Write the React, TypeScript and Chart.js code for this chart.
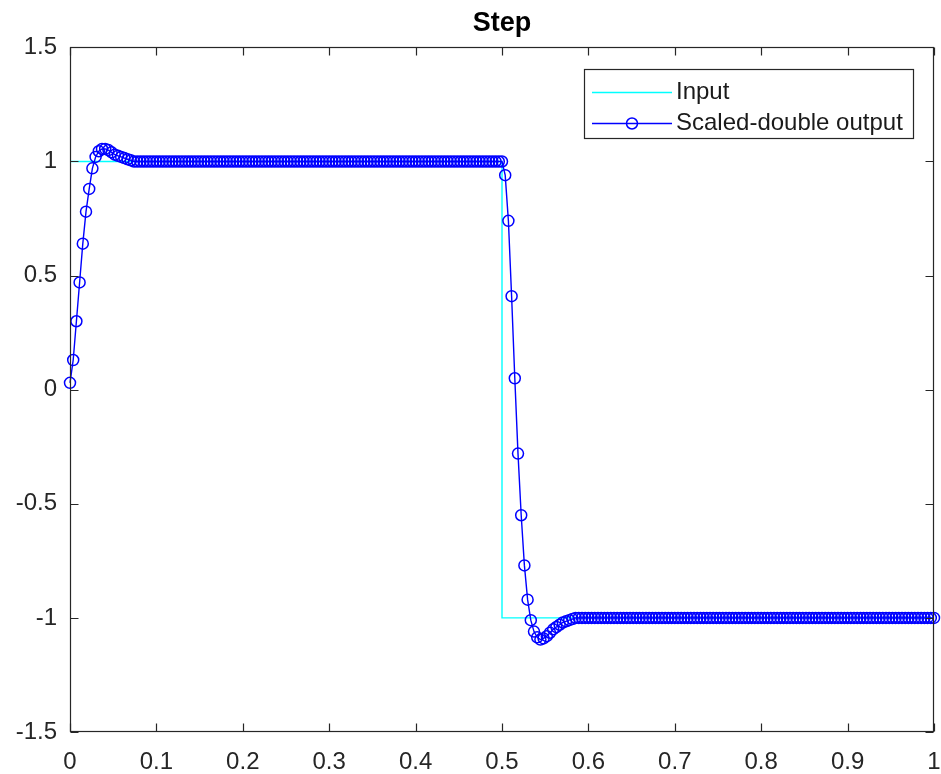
import React, { useEffect, useRef } from 'react';
import { Chart, registerables } from 'chart.js';

Chart.register(...registerables);

const TITLE = 'Step';
const INPUT_LABEL = 'Input';
const OUTPUT_LABEL = 'Scaled-double output';

const X_TICKS = [0, 0.1, 0.2, 0.3, 0.4, 0.5, 0.6, 0.7, 0.8, 0.9, 1];
const X_TICK_LABELS = ['0', '0.1', '0.2', '0.3', '0.4', '0.5', '0.6', '0.7', '0.8', '0.9', '1'];
const Y_TICKS = [-1.5, -1, -0.5, 0, 0.5, 1, 1.5];
const Y_TICK_LABELS = ['-1.5', '-1', '-0.5', '0', '0.5', '1', '1.5'];

const INPUT_TIME = [0, 0.5, 0.5, 1];
const INPUT_VALUES = [1, 1, -1, -1];

const OUTPUT_STEP = 1 / 270;
const OUTPUT_VALUES = [
  0.03, 0.13, 0.30, 0.47, 0.64, 0.78, 0.88, 0.97, 1.02, 1.045,
  1.055, 1.055, 1.05, 1.04, 1.03, 1.025, 1.02, 1.015, 1.01, 1.005,
  1, 1, 1, 1, 1, 1, 1, 1, 1, 1, 1, 1, 1, 1, 1, 1, 1, 1, 1, 1,
  1, 1, 1, 1, 1, 1, 1, 1, 1, 1, 1, 1, 1, 1, 1, 1, 1, 1, 1, 1,
  1, 1, 1, 1, 1, 1, 1, 1, 1, 1, 1, 1, 1, 1, 1, 1, 1, 1, 1, 1,
  1, 1, 1, 1, 1, 1, 1, 1, 1, 1, 1, 1, 1, 1, 1, 1, 1, 1, 1, 1,
  1, 1, 1, 1, 1, 1, 1, 1, 1, 1, 1, 1, 1, 1, 1, 1, 1, 1, 1, 1,
  1, 1, 1, 1, 1, 1, 1, 1, 1, 1, 1, 1, 1, 1, 1, 1,
  0.94, 0.74, 0.41, 0.05, -0.28, -0.55, -0.77, -0.92, -1.01, -1.06,
  -1.085, -1.095, -1.09, -1.08, -1.065, -1.05, -1.04, -1.03, -1.02, -1.015,
  -1.01, -1.005,
  -1, -1, -1, -1, -1, -1, -1, -1, -1, -1, -1, -1, -1, -1, -1, -1, -1, -1, -1, -1,
  -1, -1, -1, -1, -1, -1, -1, -1, -1, -1, -1, -1, -1, -1, -1, -1, -1, -1, -1, -1,
  -1, -1, -1, -1, -1, -1, -1, -1, -1, -1, -1, -1, -1, -1, -1, -1, -1, -1, -1, -1,
  -1, -1, -1, -1, -1, -1, -1, -1, -1, -1, -1, -1, -1, -1, -1, -1, -1, -1, -1, -1,
  -1, -1, -1, -1, -1, -1, -1, -1, -1, -1, -1, -1, -1, -1, -1, -1, -1, -1, -1, -1,
  -1, -1, -1, -1, -1, -1, -1, -1, -1, -1, -1, -1, -1,
];

const FONT = '"Liberation Sans", Arial, Helvetica, sans-serif';
const AXIS_COLOR = '#262626';
const INPUT_COLOR = '#00FFFF';
const OUTPUT_COLOR = '#0000FF';

const labelFor = (ticks: number[], labels: string[], v: number) => {
  const i = ticks.findIndex((t) => Math.abs(t - v) < 1e-9);
  return i >= 0 ? labels[i] : '';
};

const framePlugin = {
  id: 'matlabFrame',
  afterDatasetsDraw(chart: any) {
    const { ctx, chartArea: a, scales } = chart;
    const l = Math.round(a.left) + 0.5;
    const r = Math.round(a.right) - 0.5;
    const t = Math.round(a.top) + 0.5;
    const b = Math.round(a.bottom) - 0.5;
    ctx.save();
    ctx.strokeStyle = AXIS_COLOR;
    ctx.lineWidth = 1.2;
    ctx.strokeRect(l, t, r - l, b - t);
    ctx.beginPath();
    const len = 8;
    for (const v of X_TICKS) {
      const x = Math.round(scales.x.getPixelForValue(v)) + 0.5;
      ctx.moveTo(x, b);
      ctx.lineTo(x, b - len);
      ctx.moveTo(x, t);
      ctx.lineTo(x, t + len);
    }
    for (const v of Y_TICKS) {
      const y = Math.round(scales.y.getPixelForValue(v)) + 0.5;
      ctx.moveTo(l, y);
      ctx.lineTo(l + len, y);
      ctx.moveTo(r, y);
      ctx.lineTo(r - len, y);
    }
    ctx.stroke();
    ctx.restore();
  },
};

const legendPlugin = {
  id: 'boxLegend',
  afterDraw(chart: any) {
    const { ctx, chartArea: a } = chart;
    const datasets = chart.data.datasets;
    ctx.save();
    ctx.font = `24px ${FONT}`;
    const textW = Math.max(...datasets.map((d: any) => ctx.measureText(d.label).width));
    const w = Math.round(92 + textW + 10);
    const h = 69;
    const right = Math.round(a.right) - 21;
    const top = Math.round(a.top) + 22;
    const left = right - w;
    ctx.fillStyle = '#ffffff';
    ctx.fillRect(left, top, w, h);
    ctx.strokeStyle = AXIS_COLOR;
    ctx.lineWidth = 1.2;
    ctx.strokeRect(left + 0.5, top + 0.5, w, h);
    const rows = [top + 23, top + 54];
    datasets.forEach((d: any, i: number) => {
      const y = rows[i] + 0.5;
      ctx.strokeStyle = d.borderColor;
      ctx.lineWidth = d.borderWidth;
      ctx.beginPath();
      ctx.moveTo(left + 8, y);
      ctx.lineTo(left + 88, y);
      ctx.stroke();
      if (d.pointRadius > 0) {
        ctx.lineWidth = d.pointBorderWidth;
        ctx.beginPath();
        ctx.arc(left + 48, y, d.pointRadius, 0, Math.PI * 2);
        ctx.stroke();
      }
      ctx.fillStyle = '#1a1a1a';
      ctx.textAlign = 'left';
      ctx.textBaseline = 'middle';
      ctx.fillText(d.label, left + 92, rows[i]);
    });
    ctx.restore();
  },
};

export default function App() {
  const canvasRef = useRef<HTMLCanvasElement | null>(null);

  useEffect(() => {
    const canvas = canvasRef.current;
    if (!canvas) return;
    const inputData = INPUT_TIME.map((t, i) => ({ x: t, y: INPUT_VALUES[i] }));
    const outputData = OUTPUT_VALUES.map((v, i) => ({ x: i * OUTPUT_STEP, y: v }));

    const chart = new Chart(canvas, {
      type: 'line',
      data: {
        datasets: [
          {
            label: INPUT_LABEL,
            data: inputData,
            borderColor: INPUT_COLOR,
            backgroundColor: INPUT_COLOR,
            borderWidth: 1.4,
            pointRadius: 0,
            tension: 0,
            order: 1,
          },
          {
            label: OUTPUT_LABEL,
            data: outputData,
            borderColor: OUTPUT_COLOR,
            backgroundColor: 'transparent',
            borderWidth: 1.4,
            pointRadius: 5.5,
            pointBorderWidth: 1.5,
            pointBorderColor: OUTPUT_COLOR,
            pointBackgroundColor: 'transparent',
            pointStyle: 'circle',
            tension: 0,
            order: 0,
            clip: false as any,
          },
        ],
      },
      options: {
        responsive: false,
        animation: false,
        events: [],
        layout: { padding: { left: 0, right: 6, top: 0, bottom: 0 } },
        plugins: {
          legend: { display: false },
          tooltip: { enabled: false },
          title: {
            display: true,
            text: TITLE,
            fullSize: false,
            color: '#000000',
            font: { family: FONT, size: 27, weight: 'bold' },
            padding: { top: 7, bottom: 8 },
          },
        },
        scales: {
          x: {
            type: 'linear',
            min: 0,
            max: 1,
            afterBuildTicks: (s: any) => {
              s.ticks = X_TICKS.map((v) => ({ value: v }));
            },
            afterFit: (s: any) => {
              s.height = 42;
              s.paddingLeft = 0;
              s.paddingRight = 0;
            },
            grid: { display: false, drawTicks: false },
            border: { display: false },
            ticks: {
              autoSkip: false,
              maxRotation: 0,
              padding: 16,
              color: AXIS_COLOR,
              font: { family: FONT, size: 24 },
              callback: (v: any) => labelFor(X_TICKS, X_TICK_LABELS, Number(v)),
            },
          },
          y: {
            type: 'linear',
            min: -1.5,
            max: 1.5,
            afterBuildTicks: (s: any) => {
              s.ticks = Y_TICKS.map((v) => ({ value: v }));
            },
            afterFit: (s: any) => {
              s.width = 70;
              s.paddingTop = 0;
              s.paddingBottom = 0;
            },
            grid: { display: false, drawTicks: false },
            border: { display: false },
            ticks: {
              autoSkip: false,
              padding: 13,
              color: AXIS_COLOR,
              font: { family: FONT, size: 24 },
              callback: (v: any) => labelFor(Y_TICKS, Y_TICK_LABELS, Number(v)),
            },
          },
        },
      },
      plugins: [framePlugin, legendPlugin],
    } as any);

    return () => chart.destroy();
  }, []);

  return (
    <div style={{ position: 'fixed', left: 0, top: 0, width: 941, height: 774, background: '#ffffff' }}>
      <canvas ref={canvasRef} width={941} height={774} style={{ display: 'block' }} />
    </div>
  );
}
